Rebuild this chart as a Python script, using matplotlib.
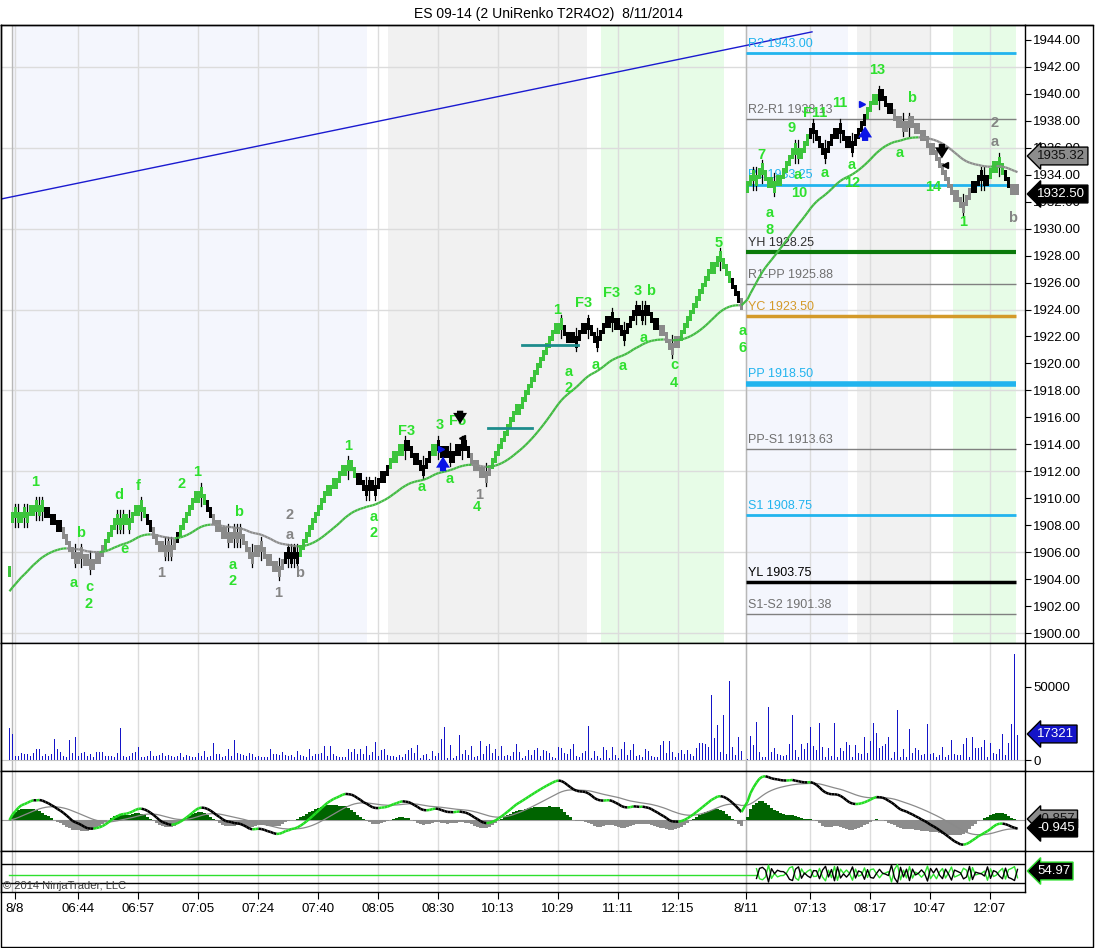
import numpy as np
import matplotlib
matplotlib.use("Agg")
import matplotlib.pyplot as plt
from matplotlib.collections import LineCollection
from matplotlib.patches import Rectangle
from matplotlib.lines import Line2D

plt.rcParams['font.family'] = ['Liberation Sans', 'DejaVu Sans']

# ---------------- data ----------------
# renko closes, one value per bar (2 tick bricks = 0.50)
aug8_close = [
    1905.0,
    1909.0, 1908.5, 1909.0, 1909.0, 1908.5, 1909.0, 1909.5, 1909.5, 1909.0, 1909.5, 1909.0,
    1908.5, 1908.5, 1908.0, 1908.0, 1907.5, 1907.5,
    1907.0, 1906.5, 1906.0, 1905.5, 1906.0, 1906.0, 1905.5, 1905.0, 1905.0, 1905.5,
    1905.5, 1906.0, 1906.0, 1906.5,
    1907.0, 1907.5, 1908.0, 1908.5, 1908.0, 1908.5, 1908.0, 1908.0,
    1908.5, 1909.0, 1909.5, 1909.5, 1909.0, 1908.5, 1908.0, 1907.5,
    1907.0, 1906.5, 1906.0, 1906.0, 1906.5, 1906.0, 1906.5, 1907.0, 1907.5,
    1908.0, 1908.5, 1909.0, 1909.5, 1910.0, 1910.5, 1910.5, 1910.0, 1909.5, 1909.0, 1908.5,
    1908.0, 1907.5, 1907.5, 1907.0, 1907.0, 1907.5, 1907.5, 1907.0, 1907.5, 1907.0, 1906.5,
    1906.0, 1905.5, 1906.0, 1906.5, 1906.5,
    1906.0, 1905.5, 1905.0, 1905.0, 1904.5, 1904.5, 1905.0, 1905.5,
    1906.0, 1905.5, 1906.0, 1905.5, 1906.0,
    1906.5, 1907.0, 1907.5, 1908.0, 1908.5, 1909.0, 1909.5, 1910.0, 1910.5, 1911.0,
    1911.0, 1911.5, 1911.5, 1912.0, 1912.5, 1912.5, 1912.0, 1912.0, 1911.5,
    1911.0, 1911.0, 1910.5, 1911.0, 1910.5, 1910.5, 1911.0, 1911.5, 1912.0, 1912.0, 1912.5,
    1913.0, 1913.5, 1913.5, 1914.0, 1914.0,
    1913.5, 1913.5, 1913.0, 1912.5, 1912.5, 1912.0, 1912.5, 1913.0, 1913.5,
    1914.0, 1914.0, 1913.5, 1913.0, 1913.0,
    1913.0, 1913.5, 1913.5, 1914.0, 1914.0, 1913.5, 1913.5, 1913.0,
    1912.5, 1912.0, 1912.0, 1911.5, 1911.5, 1912.0, 1912.5,
    1913.0, 1913.5, 1914.0, 1914.5, 1915.0, 1915.5, 1916.0, 1916.5, 1917.0, 1917.0, 1917.5,
    1918.0, 1918.5, 1919.0, 1919.5, 1920.0, 1920.5, 1921.0, 1921.5, 1922.0, 1922.5, 1923.0,
    1923.0, 1922.5,
    1922.0, 1921.5, 1921.5, 1921.5, 1922.0, 1922.5, 1923.0, 1923.0, 1922.5,
    1922.0, 1921.5, 1922.0, 1922.5, 1923.0, 1923.5, 1923.5, 1923.0,
    1922.5, 1922.5, 1922.0, 1922.5,
    1923.0, 1923.5, 1924.0, 1923.5, 1923.5, 1924.0, 1923.5, 1923.5, 1923.0, 1922.5, 1922.5,
    1922.0, 1922.0, 1921.5, 1921.0, 1921.5, 1922.0, 1922.0,
    1922.5, 1923.0, 1923.5, 1924.0, 1924.5, 1925.0, 1925.5, 1926.0, 1926.5, 1927.0, 1927.5,
    1927.5, 1928.0, 1927.5, 1927.0, 1926.5, 1926.0, 1925.5, 1925.0, 1924.5, 1924.0,
]
aug11_close = [
    1933.5, 1934.0, 1933.5, 1934.0, 1934.5, 1934.0, 1933.5, 1933.0, 1933.0,
    1933.5, 1934.0, 1934.0, 1934.5, 1935.0, 1935.5, 1936.0, 1935.5, 1936.0, 1936.0, 1936.5, 1937.0,
    1937.5, 1937.0, 1936.5, 1936.0, 1935.5, 1936.0, 1936.5, 1937.0, 1937.5, 1937.5,
    1937.0, 1936.5, 1936.0, 1936.0, 1936.5, 1937.0, 1937.5, 1938.0, 1938.5,
    1939.0, 1939.5, 1940.0, 1940.0, 1939.5, 1939.5, 1939.0, 1938.5, 1938.5,
    1938.0, 1937.5, 1937.5, 1938.0, 1938.0, 1937.5, 1937.5, 1937.0, 1937.0, 1936.5,
    1936.5, 1936.0, 1935.5, 1935.5, 1935.0, 1934.5, 1934.0, 1933.5, 1933.0, 1932.5, 1932.0, 1932.0,
    1931.5, 1932.0, 1932.5, 1933.0,
    1933.5, 1933.5, 1934.0, 1933.5, 1934.0, 1934.0, 1934.5, 1935.0, 1935.0, 1934.5, 1934.0,
    1933.5, 1933.0, 1932.5, 1932.5, 1932.5,
]
# bar colour runs: g = up trend, k = neutral, s = down trend
aug8_color_runs = [("g", 12), ("k", 6), ("s", 14), ("g", 14), ("k", 2), ("s", 8), ("k", 1),
                   ("g", 9), ("k", 2), ("s", 24), ("k", 5), ("g", 19), ("k", 11), ("g", 5),
                   ("k", 9), ("g", 2), ("k", 11), ("s", 7), ("g", 24), ("k", 32), ("s", 7),
                   ("g", 17), ("k", 3), ("s", 1)]
aug11_color_runs = [("g", 21), ("k", 19), ("g", 4), ("k", 5), ("s", 26), ("k", 6), ("g", 5),
                    ("k", 2), ("s", 3)]

aug8_volume = [
    21600, 17700, 2700, 2700, 4500, 4100, 4100, 2700, 4500, 7700,
    7700, 2700, 4100, 2700, 4100, 14500, 7700, 5400, 2700, 1800,
    13600, 4500, 15900, 2700, 5000, 5400, 2700, 4100, 1800, 5400,
    5400, 5400, 2700, 2700, 2700, 1800, 4500, 21800, 2700, 1800,
    2700, 4500, 5400, 9100, 1800, 1800, 2700, 6400, 2700, 2700,
    3400, 4500, 2700, 3400, 2700, 1800, 2700, 4500, 1800, 3400,
    2700, 1800, 1800, 4500, 2700, 5900, 1800, 2700, 11800, 4100,
    4100, 1800, 2700, 7300, 2700, 13600, 5000, 4100, 3400, 2700,
    4500, 4100, 1800, 2700, 1800, 1800, 1800, 7300, 4100, 4100,
    3400, 5400, 3400, 2700, 3400, 1800, 5900, 3400, 2700, 1800,
    7300, 2700, 4100, 4100, 5000, 9500, 2700, 9500, 4100, 2700,
    1800, 1800, 1800, 7300, 5400, 7300, 4100, 7300, 4100, 9500,
    3400, 5400, 12300, 2700, 6800, 7300, 3400,
    2700, 2700, 1800, 3400, 1800, 4100, 6800, 8200, 5000, 10200,
    1400, 3400, 4100, 900, 6400, 2700, 5000, 14500, 22700, 1400,
    10400, 1400, 2700, 17300, 4100, 6800, 3400, 9500, 1800, 2700,
    13200, 4100, 9500, 10900, 5000, 7500, 2700, 9500, 2700, 3200,
    2700, 5400, 10900, 5400, 1400, 2700, 6800, 3600, 6800, 8200,
    2700, 6800, 6400, 5000, 1800, 1400, 9100, 8200, 5000, 4100,
    7500, 10900, 2700, 1800, 5000, 6400, 23200, 1400, 6400, 2700,
    1400, 8900, 6800, 1400, 8900, 3400, 1400, 7500, 12300, 3400,
    6800, 10900, 2700, 3200, 1800, 7500, 6100, 2700, 1800, 1800,
    10200, 12900, 4800, 12900, 5400, 1800, 4800, 6800, 4100, 6800,
    4100, 2700, 8200, 11600,
    11400, 10900, 9100, 44300, 14800, 23800, 5700, 30600, 4100, 54000, 8600, 3400, 15400, 6400,
]
aug11_volume = [
    500, 16300, 10200, 26100, 5700, 2300, 1800, 36300, 5700, 7900,
    4100, 3400, 2700, 3400, 10900, 30600, 6800, 2300, 10900, 7300,
    11800, 22700, 9500, 6800, 25000, 8600, 2300, 7900, 2700, 25000,
    1800, 7900, 6400, 12500, 10200, 2300, 10200, 4500, 4100, 15400,
    4500, 13200, 25000, 18200, 7900, 9500, 10900, 15400, 1100, 5700,
    34100, 2300, 7300, 2300, 20900, 4500, 7900, 6800, 3400, 4100,
    24500, 4100, 5000, 1800, 3400, 8600, 2300, 3400, 13600, 4100,
    3400, 3400, 10900, 14800, 1800, 15400, 7900, 7900, 8600, 13600,
    2300, 11400, 4500, 4100, 7300, 17700, 3400, 11400, 24500, 72200,
    17321,
]

ma_seed = 1903.0            # value of the moving average at the first bar
aug11_first_bar = 246       # bar slot of the first 8/11 brick
osc_day1_level = 45         # flat reading of the lower oscillator before 8/11

tick_pos = [1.8, 22.8, 42.8, 62.8, 82.8, 102.8, 122.8, 142.8, 162.8, 182.8, 202.8, 222.8,
            245.5, 266.8, 286.8, 306.8, 326.8]
tick_text = ["8/8", "06:44", "06:57", "07:05", "07:24", "07:40", "08:05", "08:30", "10:13",
             "10:29", "11:11", "12:15", "8/11", "07:13", "08:17", "10:47", "12:07"]
session_lines = [0.8, 245.5]

# session shading (start bar, end bar, colour)
shade_start = [0.8, 126.2, 197.2, 245.5, 282.5, 314.5]
shade_end = [119.2, 192.5, 238.2, 279.5, 306.8, 335.5]
shade_color = ["#f4f6fd", "#f1f1f1", "#e7fce7", "#f4f6fd", "#f1f1f1", "#e7fce7"]

# floor pivots for 8/11
pivot_name = ["R2", "R2-R1", "R1", "YH", "R1-PP", "YC", "PP", "PP-S1", "S1", "YL", "S1-S2"]
pivot_value = [1943.00, 1938.13, 1933.25, 1928.25, 1925.88, 1923.50, 1918.50, 1913.63,
               1908.75, 1903.75, 1901.38]
pivot_color = ["#22b4ee", "#808080", "#22b4ee", "#0b7a0b", "#808080", "#d49a2a", "#22b4ee",
               "#808080", "#22b4ee", "#000000", "#808080"]
pivot_text_color = ["#22b4ee", "#707070", "#22b4ee", "#303030", "#707070", "#d49a2a",
                    "#22b4ee", "#707070", "#22b4ee", "#000000", "#707070"]
pivot_width = [2, 1, 2, 3, 1, 2.5, 4, 1, 2, 2.5, 1]
pivot_span = (245.5, 335.5)

trend_line = [(-2.8, 1932.2), (267.5, 1944.6)]
teal_lines = [((159.5, 174.2), 1915.2), ((170.8, 189.5), 1921.4)]

wave_bar = [8.5, 21.3, 23.8, 26.5, 26.5, 36.5, 38.5, 42.8, 50.5, 57.5, 62.5, 76.5, 74.5, 74.5,
            93.5, 93.5, 96.8, 89.5, 112.8, 121.5, 121.5, 132.5, 137.5, 143.5, 149.5, 146.8,
            156.5, 155.8, 182.5, 186.5, 186.5, 191.5, 195.5, 200.8, 204.5, 209.5, 213.8,
            211.5, 221.5, 221.5, 236.5, 244.5, 244.5,
            250.5, 253.5, 253.5, 260.8, 262.8, 263.2, 268.5, 276.8, 271.8, 280.8, 280.8,
            289.2, 300.8, 296.8, 307.8, 317.8, 328.5, 328.5, 334.5]
wave_price = [1911.2, 1903.7, 1907.4, 1903.4, 1902.15, 1910.25, 1906.25, 1910.9, 1904.45,
              1911.05, 1911.95, 1909.0, 1905.05, 1903.85, 1908.75, 1907.3, 1904.45, 1902.95,
              1913.85, 1908.6, 1907.4, 1915.0, 1910.85, 1915.45, 1915.7, 1911.45, 1910.25,
              1909.35, 1923.95, 1919.4, 1918.2, 1924.5, 1919.9, 1925.2, 1919.8, 1925.4,
              1925.4, 1921.9, 1919.9, 1918.55, 1928.95, 1922.4, 1921.15,
              1935.47, 1931.16, 1929.9, 1937.47, 1933.98, 1932.65, 1938.58, 1939.33, 1934.13,
              1934.72, 1933.39, 1941.77, 1939.7, 1935.62, 1933.09, 1930.5, 1937.84, 1936.43,
              1930.79]
wave_text = ["1", "a", "b", "c", "2", "d", "e", "f", "1", "2", "1", "b", "a", "2",
             "2", "a", "b", "1", "1", "a", "2", "F3", "a", "3", "F5", "a",
             "1", "4", "1", "a", "2", "F3", "a", "F3", "a", "3", "b",
             "a", "c", "4", "5", "a", "6",
             "7", "a", "8", "9", "a", "10", "F11", "11", "a", "a", "12",
             "13", "b", "a", "14", "1", "2", "a", "b"]
wave_color = "gggggggg" + "sgggggssss" + "gggggggg" + "sg" + "gggggggggggggggg" + \
             "ggggggggggggggg" + "ssss"

# signal arrows (bar, tail price, tip price, colour)
arrow_bar = [144.5, 285.2, 150.2, 310.8]
arrow_tail = [1911.8, 1936.3, 1916.7, 1936.5]
arrow_tip = [1913.3, 1937.8, 1915.3, 1935.0]
arrow_color = ["#0a14e6", "#0a14e6", "#000000", "#000000"]
# small entry/exit triangles (bar, price, marker, colour)
flag_bar = [143.8, 284.2, 150.8, 311.8]
flag_price = [1913.65, 1939.25, 1914.47, 1934.73]
flag_marker = [">", ">", "<", "<"]
flag_color = ["#0a14e6", "#0a14e6", "#000000", "#000000"]

# ---------------- derived series ----------------
closes = np.array(aug8_close + aug11_close)
bars = np.concatenate([np.arange(len(aug8_close)),
                       aug11_first_bar + np.arange(len(aug11_close))]).astype(float)
volume = np.array(aug8_volume + aug11_volume, dtype=float)
codes = "".join(c * n for c, n in aug8_color_runs + aug11_color_runs)
palette = {"g": "#3cc43c", "k": "#000000", "s": "#8a8a8a"}
bar_colors = [palette[c] for c in codes]


def ema(values, period, seed=None):
    alpha = 2.0 / (period + 1)
    out = np.empty(len(values))
    prev = values[0] if seed is None else seed
    for k, v in enumerate(values):
        prev = prev + alpha * (v - prev)
        out[k] = prev
    return out


ma = ema(closes, 40, seed=ma_seed)
macd = ema(closes, 12) - ema(closes, 26)
signal = ema(macd, 18)
hist = macd - signal

# ---------------- figure layout ----------------
W, H = 1096, 948
fig = plt.figure(figsize=(W / 100, H / 100), dpi=100)
fig.patch.set_facecolor("white")


def px_axes(x0, y0, x1, y1):
    return fig.add_axes([x0 / W, 1 - y1 / H, (x1 - x0) / W, (y1 - y0) / H])


ax_main = px_axes(1, 25, 1025, 643)
ax_vol = px_axes(1, 643, 1025, 771)
ax_osc = px_axes(1, 771, 1025, 851)
ax_bot = px_axes(1, 851, 1025, 892)
panels = [ax_main, ax_vol, ax_osc, ax_bot]
xlim = (-2.83, 338.5)

for ax in panels:
    ax.set_xlim(*xlim)
    ax.set_facecolor("white")
    for sp in ax.spines.values():
        sp.set_color("black")
        sp.set_linewidth(1)
    for t in tick_pos:
        ax.axvline(t, color="#dcdcdc", lw=1, zorder=0.5)
    for t in session_lines:
        ax.axvline(t, color="#b8b8b8", lw=1, zorder=0.6)
    ax.set_xticks([])
    ax.yaxis.tick_right()
    ax.tick_params(axis="y", direction="out", length=4, pad=2, labelsize=9.5,
                   left=False, right=True)

# ---------------- price panel ----------------
ax = ax_main
ax.set_ylim(1899.26, 1945.11)
ax.set_yticks(np.arange(1900, 1945, 2))
ax.set_yticklabels(["%.2f" % v for v in np.arange(1900, 1945, 2)])
for s0, s1, c in zip(shade_start, shade_end, shade_color):
    ax.add_patch(Rectangle((s0, 1890), s1 - s0, 60, color=c, lw=0, zorder=0.2))
for g in np.arange(1900, 1945, 6):
    ax.axhline(g, color="#dcdcdc", lw=1, zorder=0.5)

for name, val, c, tc, w in zip(pivot_name, pivot_value, pivot_color, pivot_text_color,
                               pivot_width):
    ax.plot(pivot_span, [val, val], color=c, lw=w, zorder=1, solid_capstyle="butt")
    ax.annotate("%s %.2f" % (name, val), (pivot_span[0] + 0.7, val), xytext=(0, 2.5),
                textcoords="offset points", fontsize=9, color=tc, va="bottom", zorder=1.5)

ax.plot([p[0] for p in trend_line], [p[1] for p in trend_line], color="#1a1ad0", lw=1,
        zorder=1)
for (x0, x1), val in teal_lines:
    ax.plot([x0, x1], [val, val], color="#1e8c8c", lw=2, zorder=4)

# renko bodies and reversal wicks
prev = np.r_[closes[0], closes[:-1]]
direction = np.sign(closes - prev)
for k in range(1, len(direction)):
    if direction[k] == 0:
        direction[k] = direction[k - 1]
direction[0] = 1
body = 0.85
bottoms = np.where(direction > 0, closes - body, closes)
for k in range(1, len(closes)):
    if direction[k] != direction[k - 1] and bars[k] - bars[k - 1] < 1.5:
        lo = min(closes[k], prev[k]) - 0.6
        hi = max(closes[k], prev[k]) + 0.6
        ax.plot([bars[k], bars[k]], [lo, hi], color="black", lw=0.9, zorder=2.5)
ax.bar(bars, body, bottom=bottoms, width=0.95, color=bar_colors, lw=0, zorder=3)

# moving average, green while rising, grey while falling
pts = np.column_stack([bars, ma])
segs = np.stack([pts[:-1], pts[1:]], axis=1)
seg_cols = ["#44bb44" if ma[k + 1] >= ma[k] else "#8e8e8e" for k in range(len(ma) - 1)]
ax.add_collection(LineCollection(segs, colors=seg_cols, linewidths=1.6, zorder=4))

for b, p, t, c in zip(wave_bar, wave_price, wave_text, wave_color):
    ax.text(b, p, t, ha="center", va="center", fontsize=10.5, fontweight="bold",
            color="#2ee02e" if c == "g" else "#858585", zorder=5)

for b, t0, t1, c in zip(arrow_bar, arrow_tail, arrow_tip, arrow_color):
    ax.annotate("", xy=(b, t1), xytext=(b, t0),
                arrowprops=dict(arrowstyle="simple,head_width=1.0,head_length=0.8,tail_width=0.45",
                                color=c, lw=0), zorder=6)
for b, p, m, c in zip(flag_bar, flag_price, flag_marker, flag_color):
    ax.plot(b, p, marker=m, color=c, markersize=5, lw=0, zorder=6)

# ---------------- volume panel ----------------
ax_vol.set_ylim(-7500, 79800)
ax_vol.bar(bars, volume, width=0.6, color="#1414c8", lw=0, zorder=3)
ax_vol.axhline(0, color="#c8c8c8", lw=0.8, zorder=1)
ax_vol.set_yticks([0, 50000])
ax_vol.set_yticklabels(["0", "50000"])

# ---------------- MACD panel ----------------
top = np.max(macd) * 1.12
ax_osc.set_ylim(-top * 31 / 49, top)
hist_cols = ["#006400" if h >= 0 else "#8c8c8c" for h in hist]
ax_osc.bar(bars, hist, width=1.0, color=hist_cols, lw=0, zorder=2)
ax_osc.axhline(0, color="#a0a0a0", lw=0.8, zorder=1)
ax_osc.plot(bars, signal, color="#8a8a8a", lw=0.9, zorder=3)
pts = np.column_stack([bars, macd])
segs = np.stack([pts[:-1], pts[1:]], axis=1)
seg_cols = ["#22dd22" if macd[k + 1] >= macd[k] else "#000000" for k in range(len(macd) - 1)]
ax_osc.add_collection(LineCollection(segs, colors=seg_cols, linewidths=1.8, zorder=4))
ax_osc.set_yticks([])

# ---------------- bottom oscillator ----------------
ax_bot.set_ylim(-8, 121)
ax_bot.axhline(80, color="black", lw=1, zorder=1)
ax_bot.axhline(20, color="black", lw=1, zorder=1)
v2 = np.array(aug11_volume, dtype=float)
osc = ema(100 * v2[1:] / (v2[1:] + v2[:-1]), 2, seed=osc_day1_level)
x2 = bars[len(aug8_close) + 1:]
flat_end = x2[2]
ax_bot.plot([0, flat_end], [osc_day1_level, osc_day1_level], color="#2ee02e", lw=1, zorder=2)
ax_bot.plot(x2[2:], osc[2:], color="#2ee02e", lw=1, zorder=2)
ax_bot.plot(x2[2:], 100 - osc[2:], color="black", lw=1, zorder=3)
ax_bot.set_yticks([])
ax_bot.set_xticks(tick_pos)
ax_bot.set_xticklabels(tick_text)
ax_bot.tick_params(axis="x", direction="out", length=5, pad=3, labelsize=9.5)

# ---------------- frame, title, value boxes ----------------
def fig_line(xs, ys, **kw):
    fig.add_artist(Line2D([x / W for x in xs], [1 - y / H for y in ys],
                          transform=fig.transFigure, **kw))


for y in [25, 643, 771, 851]:
    fig_line([1025, 1093], [y, y], color="black", lw=1)
fig_line([1, 1093, 1093, 1, 1], [25, 25, 947, 947, 25], color="black", lw=1)

fig.text(0.5, 1 - 14 / H, "ES 09-14 (2 UniRenko T2R4O2)  8/11/2014", ha="center",
         va="center", fontsize=10)
fig.text(3 / W, 1 - 886 / H, "\u00a9 2014 NinjaTrader, LLC", fontsize=8, color="#404040",
         va="center")


def value_box(y, text, fc, tc, ec="black"):
    fig.text(1037 / W, 1 - y / H, text, fontsize=9.5, color=tc, va="center", ha="left",
             bbox=dict(boxstyle="larrow,pad=0.22", fc=fc, ec=ec, lw=1))


value_box(156, "1935.32", "#8c8c8c", "#111111")
value_box(194, "1932.50", "#000000", "white")
value_box(734, "17321", "#1414c8", "white")
value_box(819, "-0.857", "#8c8c8c", "#111111")
value_box(828, "-0.945", "#000000", "white")
value_box(871, "54.97", "#000000", "white", ec="#2ee02e")

fig.savefig("out.png", dpi=100)
